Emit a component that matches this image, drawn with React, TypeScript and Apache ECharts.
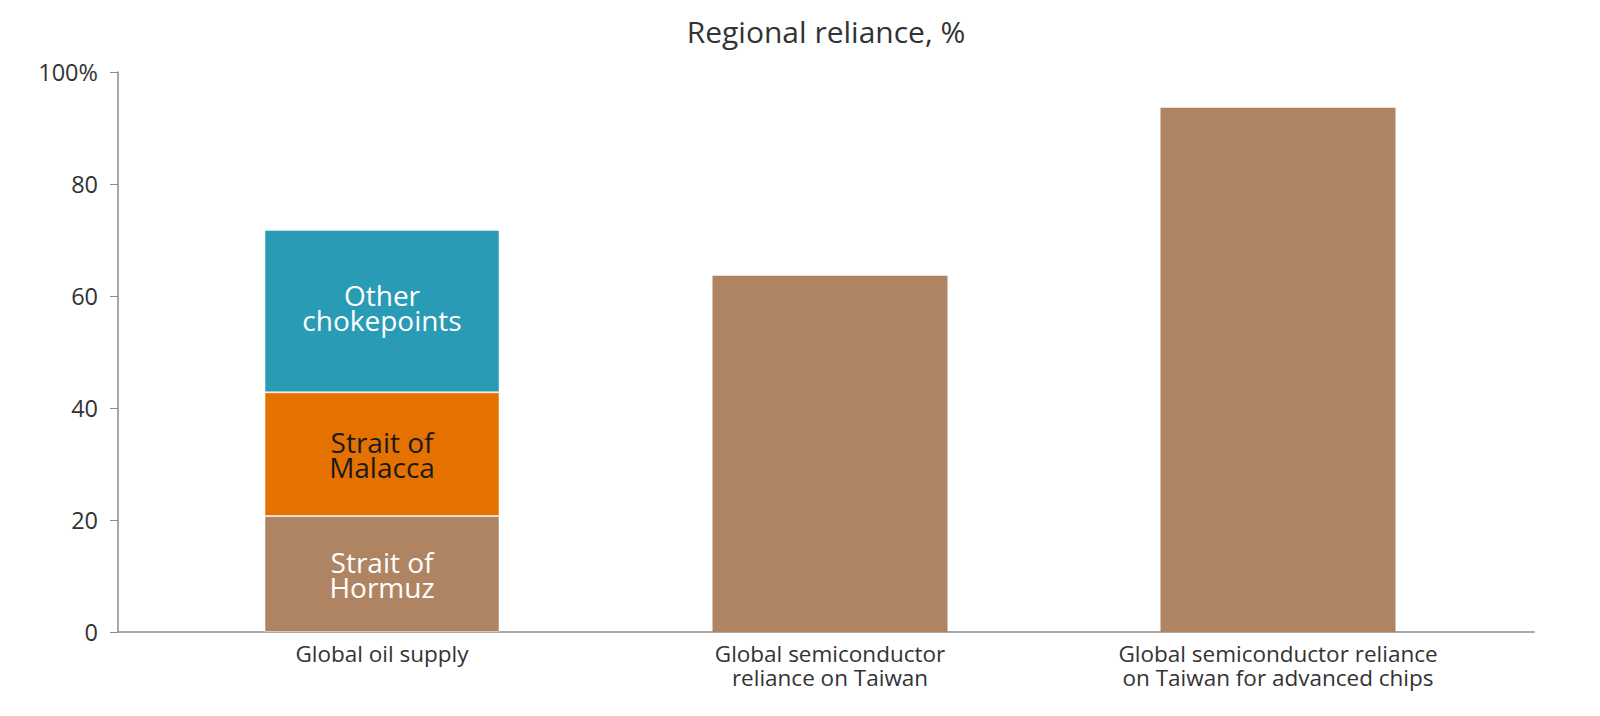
import React, { useEffect, useRef } from "react";
import * as echarts from "echarts";

const categories = [
  "Global oil supply",
  "Global semiconductor\nreliance on Taiwan",
  "Global semiconductor reliance\non Taiwan for advanced chips",
];

// oil supply split by chokepoint (stacked)
const hormuz = [20.7, "-", "-"];
const malacca = [22.1, "-", "-"];
const otherChokepoints = [29.0, "-", "-"];
// semiconductor reliance
const semiconductor = ["-", 63.6, 93.6];

const yTicks = [0, 20, 40, 60, 80, 100];

const FONT = "'Open Sans', 'Noto Sans', sans-serif";
const BROWN = "#ae8462";
const ORANGE = "#e57200";
const TEAL = "#2a9bb5";

const segLabel = (text: string, color: string, dy = 0) => ({
  show: true,
  position: "inside" as const,
  formatter: text,
  color,
  offset: [0, dy],
  fontFamily: FONT,
  fontSize: 28,
  lineHeight: 25,
});

const App: React.FC = () => {
  const chartRef = useRef<HTMLDivElement>(null);

  useEffect(() => {
    if (!chartRef.current) return;
    const chart = echarts.init(chartRef.current, undefined, { renderer: "svg" });

    const segStyle = (color: string) => ({
      color,
      borderColor: "rgba(255,255,255,0.5)",
      borderWidth: 1,
    });

    const option: echarts.EChartsOption = {
      animation: false,
      backgroundColor: "#ffffff",
      textStyle: { fontFamily: FONT },
      graphic: [
        {
          type: "text",
          x: 826,
          y: 31,
          style: {
            text: "Regional reliance, %",
            fill: "#333",
            font: `30px ${FONT}`,
            textAlign: "center",
            textVerticalAlign: "middle",
          },
        },
      ],
      grid: [
        { left: 118, right: 66, top: 72, bottom: 84 },
        { left: 158, right: 98, top: 72, bottom: 84 },
      ],
      xAxis: [
        {
          type: "value",
          gridIndex: 0,
          min: 0,
          max: 1,
          axisLine: { show: true, lineStyle: { color: "#8a8a8a", width: 1.5 } },
          axisTick: { show: false },
          axisLabel: { show: false },
          splitLine: { show: false },
        },
        {
          type: "category",
          gridIndex: 1,
          data: categories,
          axisLine: { show: false },
          axisTick: { show: false },
          axisLabel: {
            color: "#333",
            fontSize: 22.5,
            lineHeight: 24.5,
            margin: 9,
            fontFamily: FONT,
          },
        },
      ],
      yAxis: [
        {
          type: "value",
          gridIndex: 0,
          min: 0,
          max: 100,
          interval: 20,
          axisLine: { show: true, lineStyle: { color: "#8a8a8a", width: 1.5 } },
          axisTick: { show: true, length: 8, lineStyle: { color: "#8a8a8a" } },
          axisLabel: {
            color: "#333",
            fontSize: 23.5,
            margin: 20,
            fontFamily: FONT,
            formatter: (v: number) => (v === yTicks[yTicks.length - 1] ? `${v}%` : `${v}`),
          },
          splitLine: { show: false },
        },
        {
          type: "value",
          gridIndex: 1,
          min: 0,
          max: 100,
          show: false,
        },
      ],
      series: [
        {
          name: "Strait of Hormuz",
          type: "bar",
          stack: "reliance",
          xAxisIndex: 1,
          yAxisIndex: 1,
          barWidth: 235,
          data: hormuz,
          itemStyle: segStyle(BROWN),
          label: segLabel("Strait of\nHormuz", "#ffffff"),
        },
        {
          name: "Strait of Malacca",
          type: "bar",
          stack: "reliance",
          xAxisIndex: 1,
          yAxisIndex: 1,
          data: malacca,
          itemStyle: segStyle(ORANGE),
          label: segLabel("Strait of\nMalacca", "#1a1a1a"),
        },
        {
          name: "Other chokepoints",
          type: "bar",
          stack: "reliance",
          xAxisIndex: 1,
          yAxisIndex: 1,
          data: otherChokepoints,
          itemStyle: segStyle(TEAL),
          label: segLabel("Other\nchokepoints", "#ffffff", -4),
        },
        {
          name: "Semiconductors",
          type: "bar",
          stack: "reliance",
          xAxisIndex: 1,
          yAxisIndex: 1,
          data: semiconductor,
          itemStyle: { color: BROWN },
        },
      ],
    };

    chart.setOption(option);

    return () => {
      chart.dispose();
    };
  }, []);

  return (
    <div
      ref={chartRef}
      style={{
        position: "fixed",
        left: 0,
        top: 0,
        width: "1600px",
        height: "716px",
        backgroundColor: "#ffffff",
      }}
    />
  );
};

export default App;
